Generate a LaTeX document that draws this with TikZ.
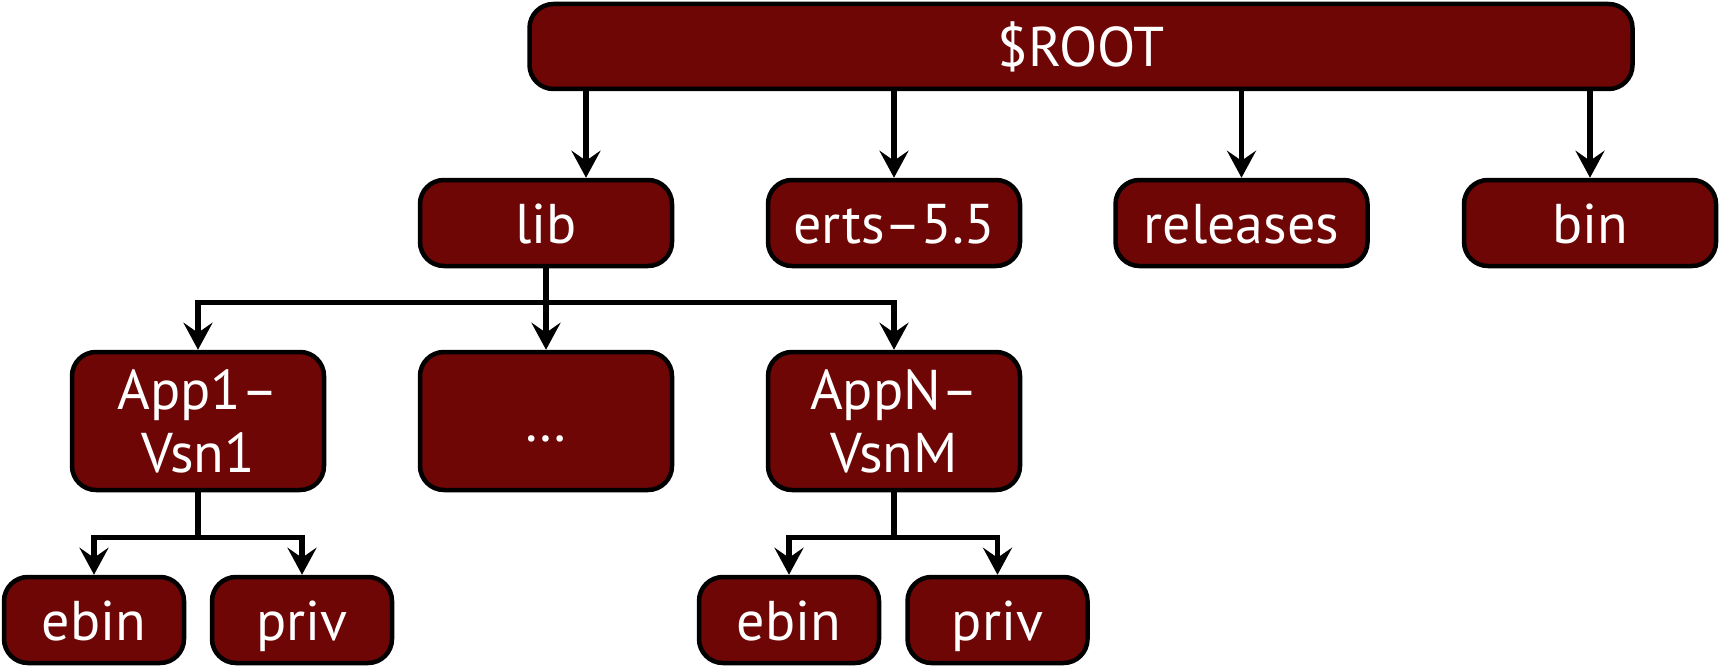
\documentclass[tikz,border=0pt]{standalone}
\usepackage{fontspec}
\setmainfont{PT Sans}
\usetikzlibrary{arrows.meta}
\definecolor{boxred}{RGB}{110,6,6}
\begin{document}
\begin{tikzpicture}[x=1pt,y=-1pt,
  dirbox/.style={draw=black, line width=4.5pt, fill=boxred, rounded corners=24pt,
    text=white, font=\fontsize{56}{63}\selectfont, inner sep=0pt, align=center},
  oneline/.style={text height=40pt, text depth=0pt},
  wide/.style={minimum width=252pt, minimum height=86pt},
  tall/.style={minimum width=252pt, minimum height=138pt},
  leaf/.style={minimum width=180pt, minimum height=86pt},
  conn/.style={draw=black, line width=5.5pt, -{Stealth[length=27pt,width=29pt,inset=10pt]}},
  bar/.style={draw=black, line width=5.5pt}]
\useasboundingbox (0,0) rectangle (1720,666);
\node[dirbox, oneline, minimum width=1103pt, minimum height=85pt] (root) at (1081,46.5) {\$ROOT};
\node[dirbox, oneline, wide] (lib) at (546,223) {lib};
\node[dirbox, oneline, wide] (erts) at (894,223) {erts–5.5};
\node[dirbox, oneline, wide] (rel) at (1241.5,223) {releases};
\node[dirbox, oneline, wide] (bin) at (1590,223) {bin};
\node[dirbox, tall] (app1) at (198,421) {App1–\\Vsn1};
\node[dirbox, oneline, tall] (dots) at (546,421) {…};
\node[dirbox, tall] (appn) at (894,421) {AppN–\\VsnM};
\node[dirbox, oneline, leaf] (ebin1) at (94,620) {ebin};
\node[dirbox, oneline, leaf] (priv1) at (302,620) {priv};
\node[dirbox, oneline, leaf] (ebin2) at (789,620) {ebin};
\node[dirbox, oneline, leaf] (priv2) at (997.5,620) {priv};
% root to children
\draw[conn] ([xshift=40pt]lib.north |- root.south) -- ([xshift=40pt]lib.north);
\draw[conn] (erts.north |- root.south) -- (erts.north);
\draw[conn] (rel.north |- root.south) -- (rel.north);
\draw[conn] (bin.north |- root.south) -- (bin.north);
% lib to apps
\draw[bar] (lib.south) -- ++(0,34) coordinate (libbar);
\draw[conn] (libbar) -| (app1.north);
\draw[conn] (libbar) -- (dots.north);
\draw[conn] (libbar) -| (appn.north);
% app1 to leaves
\draw[bar] (app1.south) -- ++(0,45) coordinate (a1bar);
\draw[conn] (a1bar) -| (ebin1.north);
\draw[conn] (a1bar) -| (priv1.north);
% appn to leaves
\draw[bar] (appn.south) -- ++(0,45) coordinate (anbar);
\draw[conn] (anbar) -| (ebin2.north);
\draw[conn] (anbar) -| (priv2.north);
\end{tikzpicture}
\end{document}
